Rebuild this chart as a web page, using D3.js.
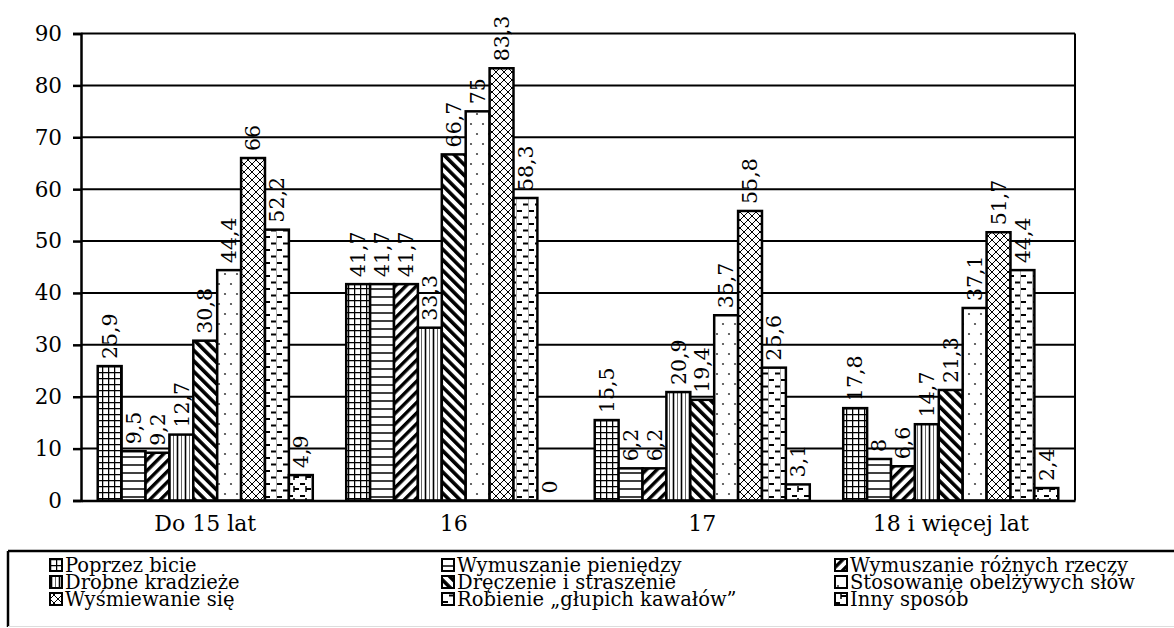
<!DOCTYPE html>
<html><head><meta charset="utf-8">
<script src="https://cdn.jsdelivr.net/npm/d3@7"></script>
<style>
body{margin:0;background:#fff}
svg{display:block}
</style>
</head><body>
<svg id="chart" width="1174" height="628"></svg>
<script>
const groups = ["Do 15 lat", "16", "17", "18 i więcej lat"];
const series = ["Poprzez bicie", "Wymuszanie pieniędzy", "Wymuszanie różnych rzeczy",
  "Drobne kradzieże", "Dręczenie i straszenie", "Stosowanie obelżywych słów",
  "Wyśmiewanie się", "Robienie „głupich kawałów”", "Inny sposób"];
const valuesDo15 = [25.9, 9.5, 9.2, 12.7, 30.8, 44.4, 66, 52.2, 4.9];
const values16 = [41.7, 41.7, 41.7, 33.3, 66.7, 75, 83.3, 58.3, 0];
const values17 = [15.5, 6.2, 6.2, 20.9, 19.4, 35.7, 55.8, 25.6, 3.1];
const values18 = [17.8, 8, 6.6, 14.7, 21.3, 37.1, 51.7, 44.4, 2.4];
const yTicks = [0, 10, 20, 30, 40, 50, 60, 70, 80, 90];

const groupValues = [valuesDo15, values16, values17, values18];
const data = [];
groups.forEach((g, gi) => series.forEach((s, si) => data.push({g, s, si, v: groupValues[gi][si]})));

const FONT = "DejaVu Serif";
const svg = d3.select("#chart");
const defs = svg.append("defs");

function pat(id, w, h, draw, transform) {
  const p = defs.append("pattern").attr("id", id).attr("patternUnits", "userSpaceOnUse")
    .attr("width", w).attr("height", h);
  if (transform) p.attr("patternTransform", transform);
  p.append("rect").attr("width", w).attr("height", h).attr("fill", "#fff");
  draw(p);
}
pat("p0", 6, 6, p => {
  p.append("path").attr("d", "M0,0.6H6M0.6,0V6").attr("stroke", "#000").attr("stroke-width", 1.3);
});
pat("p1", 8, 8, p => {
  p.append("path").attr("d", "M0,1H8").attr("stroke", "#000").attr("stroke-width", 1.5);
});
pat("p2", 7.5, 7.5, p => {
  p.append("rect").attr("x", 0).attr("width", 3.4).attr("height", 7.5).attr("fill", "#000");
}, "rotate(45)");
pat("p3", 8, 8, p => {
  p.append("path").attr("d", "M1.5,0V8").attr("stroke", "#000").attr("stroke-width", 1.6);
  p.append("path").attr("d", "M5.5,0V8").attr("stroke", "#666").attr("stroke-width", 1);
});
pat("p4", 7.5, 7.5, p => {
  p.append("rect").attr("x", 0).attr("width", 3.6).attr("height", 7.5).attr("fill", "#000");
}, "rotate(-45)");
pat("p5", 12, 20, p => {
  p.append("circle").attr("cx", 3).attr("cy", 4).attr("r", 1.1).attr("fill", "#444");
  p.append("circle").attr("cx", 9).attr("cy", 14).attr("r", 1.1).attr("fill", "#444");
});
pat("p6", 8, 8, p => {
  p.append("path").attr("d", "M0,0L8,8M8,0L0,8M-1,7L1,9M7,-1L9,1M-1,1L1,-1M7,9L9,7")
    .attr("stroke", "#000").attr("stroke-width", 1);
});
pat("p7", 12, 13, p => {
  p.append("path").attr("d", "M1,3H6M7,9.5H12").attr("stroke", "#000").attr("stroke-width", 2);
  p.append("path").attr("d", "M0.5,0V13").attr("stroke", "#999").attr("stroke-width", 0.8);
});
pat("p8", 12, 12, p => {
  p.append("path").attr("d", "M0,4H5M6,9H11").attr("stroke", "#000").attr("stroke-width", 2);
  p.append("path").attr("d", "M6,6V12").attr("stroke", "#000").attr("stroke-width", 1.5);
});

const x0 = d3.scaleBand().domain(groups).range([81, 1075]).padding(0);
const x1 = d3.scaleBand().domain(series).range([0, x0.bandwidth()]).paddingInner(0).paddingOuter(0.7);
const y = d3.scaleLinear().domain([0, 90]).range([500.5, 33.5]);

svg.append("g").selectAll("line").data(yTicks.filter(t => t > 0)).join("line")
  .attr("x1", 81).attr("x2", 1075).attr("y1", d => y(d)).attr("y2", d => y(d))
  .attr("stroke", "#000").attr("stroke-width", 2);
svg.append("line").attr("x1", 1075).attr("x2", 1075).attr("y1", y(90)).attr("y2", y(0))
  .attr("stroke", "#000").attr("stroke-width", 2);

svg.append("g").selectAll("rect").data(data).join("rect")
  .attr("x", d => x0(d.g) + x1(d.s))
  .attr("width", x1.bandwidth())
  .attr("y", d => y(d.v))
  .attr("height", d => y(0) - y(d.v))
  .attr("fill", d => `url(#p${d.si})`)
  .attr("stroke", "#000").attr("stroke-width", 2.5)
  .filter(d => d.v === 0).attr("stroke", "none");

svg.append("g").selectAll("text").data(data).join("text")
  .attr("font-family", FONT)
  .attr("transform", d => `translate(${x0(d.g) + x1(d.s) + x1.bandwidth() / 2},${y(d.v) - 7}) rotate(-90)`)
  .attr("dy", "0.35em")
  .attr("font-size", 20.5)
  .text(d => String(d.v).replace(".", ","));

const yAxis = d3.axisLeft(y).tickValues(yTicks).tickSize(8).tickPadding(11);
const ya = svg.append("g").attr("transform", "translate(81,0)").call(yAxis);
ya.select(".domain").attr("stroke", "#000").attr("stroke-width", 2.5);
ya.selectAll(".tick line").attr("stroke", "#000").attr("stroke-width", 2.5);
ya.selectAll(".tick text").attr("font-size", 21.5).attr("fill", "#000").attr("font-family", FONT);

const xAxis = d3.axisBottom(x0).tickSize(0).tickPadding(15);
const xa = svg.append("g").attr("transform", `translate(0,${y(0)})`).call(xAxis);
xa.select(".domain").attr("stroke", "#000").attr("stroke-width", 2.5);
xa.selectAll(".tick text").attr("font-size", 22).attr("fill", "#000").attr("font-family", FONT);

const lg = svg.append("g");
lg.append("line").attr("x1", 8).attr("x2", 1174).attr("y1", 551).attr("y2", 551).attr("stroke", "#000").attr("stroke-width", 2.5);
lg.append("line").attr("x1", 8).attr("x2", 8).attr("y1", 551).attr("y2", 627).attr("stroke", "#000").attr("stroke-width", 2.5);
lg.append("line").attr("x1", 8).attr("x2", 1174).attr("y1", 626.5).attr("y2", 626.5).attr("stroke", "#ddd").attr("stroke-width", 1);
const colX = [50, 442, 835];
const rowY = [565, 582, 599];
const items = lg.selectAll("g.item").data(series).join("g").attr("class", "item")
  .attr("transform", (d, i) => `translate(${colX[i % 3]},${rowY[Math.floor(i / 3)]})`);
items.append("rect").attr("x", 0).attr("y", -6).attr("width", 12).attr("height", 12)
  .attr("fill", (d, i) => `url(#p${i})`).attr("stroke", "#000").attr("stroke-width", 2);
items.append("text").attr("x", 15).attr("y", 6.5).attr("font-size", 19.5).attr("font-family", FONT).text(d => d);
</script>
</body></html>
